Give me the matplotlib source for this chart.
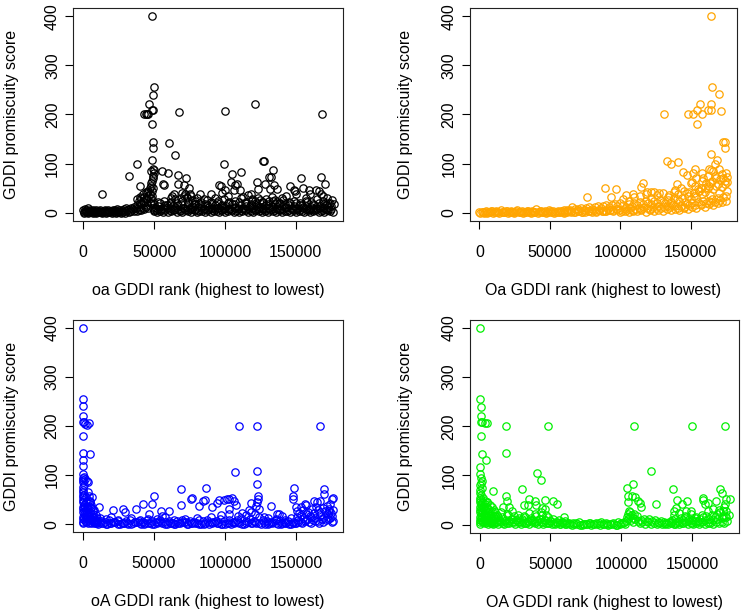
import matplotlib.pyplot as plt

plt.rcParams['font.family'] = ['Liberation Sans', 'DejaVu Sans']

# ---- oa (black) ----
oa_band_rank = [0.5, 1.5, 2.5, 3.5, 4.5, 5.5, 6.5, 7.5, 8.5, 9.5, 10.5, 11.5, 12.5, 13.5, 14.5,
                15.5, 16.5, 17.5, 18.5, 19.5, 20.5, 21.5, 22.5, 23.5, 24.5, 25.5, 26.5, 27.5, 28.5, 29.5,
                0, 1, 2, 3, 5, 7, 9, 12, 15, 18, 21, 24, 27, 30,
                31, 32, 33, 34, 35, 36, 37, 38, 39, 40, 41, 42, 43, 44, 45, 46, 47,
                32, 34, 36, 38, 39, 40, 41, 42, 43, 44, 45, 46, 47,
                38, 39, 40, 41, 42, 43, 44, 45, 46, 47,
                47.5, 48, 48.5, 49, 49.5, 50, 48, 49, 50, 48.5, 49.5, 47.5, 48, 49, 50, 48.5, 49.5,
                50, 52, 54, 56, 58, 60, 62, 64, 66, 68, 70, 72, 74, 76, 78, 80, 82, 84, 86, 88, 90, 92,
                94, 96, 98, 100, 102, 104, 106, 108, 110, 112, 114, 116, 118, 120, 122, 124, 126, 128,
                130, 132, 134, 136, 138, 140, 142, 144, 146, 148, 150, 152, 154, 156, 158, 160, 162,
                164, 166, 168, 170, 172, 174, 176,
                51, 53, 55, 57, 59, 61, 63, 65, 67, 69, 71, 73, 75, 77, 79, 81, 83, 85, 87, 89, 91, 93,
                95, 97, 99, 101, 103, 105, 107, 109, 111, 113, 115, 117, 119, 121, 123, 125, 127, 129,
                131, 133, 135, 137, 139, 141, 143, 145, 147, 149, 151, 153, 155, 157, 159, 161, 163,
                165, 167, 169, 171, 173, 175,
                53, 57, 61, 65, 69, 71, 73, 75, 77, 79, 83, 87, 91, 95, 99, 103, 107, 111, 115, 119,
                121, 123, 125, 127, 129, 131, 133, 135, 137, 139, 141, 145, 149, 153, 157, 161, 165,
                169, 173,
                70, 72, 73, 76, 80, 85, 62, 93, 98, 102, 113, 119, 140, 143, 157, 172]
oa_band_score = [2, 4, 1, 3, 6, 2, 3, 1, 4, 2, 3, 5, 1, 2, 4,
                 3, 1, 5, 2, 3, 4, 2, 6, 3, 1, 5, 4, 2, 7, 3,
                 6, 8, 5, 9, 4, 6, 5, 3, 6, 4, 5, 7, 6, 9,
                 5, 8, 4, 10, 7, 12, 9, 15, 12, 20, 18, 25, 22, 30, 28, 35, 38,
                 2, 3, 4, 3, 6, 8, 5, 10, 8, 12, 15, 10, 20,
                 28, 25, 32, 30, 38, 33, 42, 40, 45, 50,
                 55, 60, 65, 70, 75, 80, 85, 90, 88, 45, 50, 30, 20, 10, 5, 35, 25,
                 3, 1, 4, 2, 5, 1, 3, 6, 2, 4, 1, 5, 3, 2, 6, 1, 4, 3, 2, 5, 1, 3,
                 4, 2, 6, 1, 3, 5, 2, 4, 1, 3, 6, 2, 4, 1, 5, 3, 2, 4,
                 1, 6, 3, 2, 5, 1, 4, 3, 2, 6, 1, 3, 4, 2, 5, 1, 3,
                 6, 2, 4, 1, 5, 3, 2,
                 10, 14, 8, 12, 16, 9, 13, 11, 15, 18, 10, 12, 9, 14, 17, 11, 13, 8, 15, 12, 10, 16,
                 9, 14, 11, 13, 8, 17, 12, 10, 15, 9, 13, 11, 16, 8, 14, 12, 10, 15,
                 9, 13, 17, 11, 8, 14, 12, 16, 10, 13, 9, 15, 11, 14, 8, 12, 16,
                 10, 13, 9, 15, 11, 14,
                 22, 25, 20, 28, 30, 35, 32, 38, 27, 24, 22, 26, 20, 24, 28, 22, 25, 30, 23, 27,
                 24, 30, 26, 22, 28, 25, 32, 27, 23, 20, 26, 22, 25, 20, 24, 22, 28, 25, 20,
                 40, 38, 30, 35, 30, 28, 30, 30, 40, 35, 32, 28, 30, 35, 30, 30]
oa_fill_rank = [0.8, 2, 3, 4.2, 5.3, 6.8, 8, 9.2, 10.8, 12, 13.2, 14.8, 16, 17.2, 18.8, 20, 21.2,
                22.8, 24, 25.2, 26.8, 28, 29.2,
                51, 53, 55, 57, 59, 61, 63, 65, 67, 69, 71, 73, 75, 77, 79, 81, 83, 85, 87, 89, 91, 93,
                95, 97, 99, 101, 103, 105, 107, 109, 111, 113, 115, 117, 119, 121, 123, 125, 127, 129,
                131, 133, 135, 137, 139, 141, 143, 145, 147, 149, 151, 153, 155, 157, 159, 161, 163,
                165, 167, 169, 171, 173, 175,
                50, 54, 58, 62, 66, 70, 74, 78, 82, 86, 90, 94, 98, 102, 106, 110, 114, 118, 122, 126,
                130, 134, 138, 142, 146, 150, 154, 158, 162, 166, 170, 174]
oa_fill_score = [0, 1, 0, 2, 1, 0, 1, 0, 2, 1, 0, 1, 0, 2, 1, 0, 1,
                 0, 2, 1, 0, 1, 0,
                 6, 8, 5, 7, 9, 6, 5, 8, 7, 6, 9, 5, 7, 8, 6, 5, 9, 7, 6, 8, 5, 7,
                 9, 6, 8, 5, 7, 6, 9, 8, 5, 7, 6, 8, 9, 5, 7, 6, 8, 5,
                 9, 7, 6, 8, 5, 7, 9, 6, 8, 5, 7, 6, 9, 8, 5, 7, 6,
                 8, 9, 5, 7, 6, 8,
                 18, 20, 16, 22, 19, 24, 21, 18, 20, 17, 22, 19, 16, 21, 18, 23, 20, 17, 19, 22,
                 18, 24, 20, 17, 21, 19, 16, 22, 18, 20, 17, 19]
oa_rank = [48.8, 50.0, 49.5, 46.7, 44.1, 42.9, 44.8, 46.0, 48.3, 49.5,
           48.8, 49.5, 49.5, 48.8, 67.2, 60.6, 64.8, 38.0, 32.5, 13.4,
           40.1, 55.2, 60.1, 55.9, 57.3, 66.7, 66.7, 72.6, 71.4, 74.7,
           62.7, 64.1, 100.2, 99.5, 104.9, 111.3, 104.2, 107.3, 108.5, 106.1,
           110.4, 95.5, 97.1, 100.2, 90.1, 82.5, 121.4, 122.6, 123.1, 126.9,
           127.4, 128.5, 130.9, 132.7, 133.9, 134.4, 136.8, 132.0, 116.0, 118.4,
           145.7, 148.6, 149.3, 150.4, 153.3, 154.9, 159.2, 163.9, 166.2, 167.4,
           167.4, 168.6, 170.2, 169.3, 175.7, 176.8, 160.3]
oa_score = [400, 255, 240, 221, 200, 200, 200, 200, 209, 209,
            180, 144, 131, 108, 206, 142, 118, 100, 75, 39,
            54, 85, 80, 58, 56, 76, 58, 70, 56, 50,
            35, 39, 207, 100, 78, 83, 63, 56, 59, 46,
            46, 56, 54, 46, 39, 39, 221, 63, 49, 105,
            105, 59, 73, 73, 88, 56, 49, 49, 37, 39,
            54, 47, 44, 39, 71, 50, 46, 47, 44, 39,
            73, 200, 59, 35, 27, 17, 39]

# ---- Oa (orange) ----
Oa_band_rank = [0, 1.5, 3, 4.5, 6, 7.5, 9, 10.5, 12, 13.5, 15, 16.5, 18, 19.5, 21, 22.5, 24, 25.5,
                27, 28.5, 30, 31.5, 33, 34.5, 36, 37.5, 39, 40.5, 42, 43.5, 45, 46.5, 48, 49.5, 51,
                52.5, 54, 55.5, 57, 58.5, 60,
                61, 63, 65, 67, 69, 71, 73, 75, 77, 79, 81, 83, 85, 87, 89, 91, 93, 95, 97, 99,
                62, 64, 66, 68, 70, 72, 74, 76, 78, 80, 82, 84, 86, 88, 90, 92, 94, 96, 98, 100,
                101, 103, 105, 107, 109, 111, 113, 115, 117, 119, 121, 123, 125, 127, 129, 131, 133,
                135, 137, 139,
                102, 104, 106, 108, 110, 112, 114, 116, 118, 120, 122, 124, 126, 128, 130, 132, 134,
                136, 138, 140,
                102, 106, 110, 114, 118, 122, 126, 130, 134, 138,
                141, 143, 145, 147, 149, 151, 153, 155, 157, 159, 161, 163, 165, 167, 169, 171, 173, 175,
                142, 144, 146, 148, 150, 152, 154, 156, 158, 160, 162, 164, 166, 168, 170, 172, 174, 176,
                141, 145, 149, 153, 157, 161, 165, 169, 173, 176,
                143, 147, 151, 155, 159, 163, 167, 171, 175]
Oa_band_score = [1, 2, 0, 3, 1, 2, 4, 1, 3, 2, 6, 1, 2, 3, 1, 4, 2, 1,
                 6, 2, 3, 1, 2, 4, 1, 3, 2, 7, 1, 3, 2, 4, 1, 6, 2,
                 3, 1, 4, 2, 3, 5,
                 2, 4, 3, 1, 5, 3, 2, 6, 4, 3, 5, 2, 6, 4, 3, 7, 5, 4, 8, 6,
                 6, 5, 12, 8, 7, 10, 6, 9, 12, 8, 11, 14, 9, 13, 16, 12, 15, 18, 13, 20,
                 4, 7, 5, 9, 6, 8, 10, 7, 11, 9, 8, 12, 10, 13, 9, 11, 14,
                 12, 15, 13,
                 15, 12, 18, 14, 20, 16, 22, 18, 25, 20, 17, 24, 21, 27, 23, 19, 26,
                 22, 30, 28,
                 28, 25, 32, 35, 38, 30, 36, 40, 33, 42,
                 10, 14, 12, 18, 15, 20, 16, 22, 18, 25, 20, 24, 28, 22, 30, 26, 32, 35,
                 25, 30, 22, 35, 28, 40, 32, 45, 38, 42, 50, 36, 48, 55, 40, 52, 58, 45,
                 38, 45, 42, 55, 50, 60, 65, 58, 70, 62,
                 50, 40, 62, 48, 70, 55, 75, 68, 80]
Oa_fill_rank = [0.75, 2.25, 3.75, 5.25, 6.75, 8.25, 9.75, 11.25, 12.75, 14.25, 15.75, 17.25, 18.75,
                20.25, 21.75, 23.25, 24.75, 26.25, 27.75, 29.25, 30.75, 32.25, 33.75, 35.25, 36.75,
                38.25, 39.75, 41.25, 42.75, 44.25, 45.75, 47.25, 48.75, 50.25, 51.75, 53.25, 54.75,
                56.25, 57.75, 59.25,
                60, 62.5, 65, 67.5, 70, 72.5, 75, 77.5, 80, 82.5, 85, 87.5, 90, 92.5, 95, 97.5,
                100, 103, 106, 109, 112, 115, 118, 121, 124, 127, 130, 133, 136, 139, 142, 145, 148,
                151, 154, 157, 160, 163, 166, 169, 172, 175,
                150, 152, 154, 156, 158, 160, 162, 164, 166, 168, 170, 172, 174, 176]
Oa_fill_score = [0, 1, 2, 0, 1, 3, 0, 2, 1, 0, 2, 1, 3,
                 0, 1, 2, 0, 3, 1, 2, 0, 1, 3, 2, 0,
                 1, 2, 0, 3, 1, 2, 0, 1, 3, 2, 0, 1,
                 2, 3, 1,
                 0, 1, 2, 1, 3, 2, 1, 4, 2, 3, 5, 3, 4, 6, 5, 7,
                 2, 3, 1, 4, 3, 5, 2, 6, 4, 5, 3, 7, 5, 8, 6, 10, 8,
                 12, 10, 15, 12, 18, 15, 20, 22, 25,
                 60, 35, 70, 45, 65, 50, 75, 60, 85, 70, 90, 78, 65, 72]
Oa_rank = [164.2, 165.1, 169.8, 164.2, 162.4, 164.7, 156.5, 154.2, 157.7, 151.9,
           147.9, 154.2, 171.7, 131.0, 172.8, 174.0, 174.0, 164.2, 168.9, 167.5,
           132.8, 140.7, 136.1, 144.4, 147.2, 153.1, 151.9, 157.7, 162.8, 164.7,
           115.8, 114.7, 89.1, 96.8, 76.3, 93.7, 104.2, 108.9, 119.3, 121.7,
           124.0, 127.5, 134.9, 139.1, 140.2, 164.7]
Oa_score = [400, 255, 241, 221, 209, 209, 221, 209, 200, 200,
            200, 180, 207, 200, 144, 144, 131, 119, 108, 100,
            105, 104, 100, 83, 76, 90, 80, 80, 90, 87,
            61, 52, 50, 49, 33, 33, 37, 39, 42, 42,
            42, 40, 37, 47, 59, 22]

# ---- oA (blue) ----
oA_band_rank = [0, 0, 0, 0, 0, 0, 0, 0, 0.5, 0.5, 0.5, 0.5, 1, 1, 1, 1, 1.5, 1.5, 2, 2, 2, 2.5, 2.5,
                3, 3, 3, 3.5, 4, 4, 4, 4.5, 5, 5, 5.5, 6, 6, 6.5, 7, 7, 7.5, 8, 8, 8.5, 9, 9, 9.5, 10, 10,
                11, 14, 17, 20, 23, 26, 29, 32, 35, 38, 41, 44, 47, 50, 53, 56, 59, 62, 65, 68, 71, 74,
                77, 80, 83, 86, 89, 92, 95, 98, 101, 104, 107, 110, 113, 116, 119, 122, 125, 128, 131,
                134, 137, 140, 143, 146, 149,
                12.5, 15.5, 18.5, 21.5, 24.5, 27.5, 30.5, 33.5, 36.5, 39.5, 42.5, 45.5, 48.5, 51.5,
                54.5, 57.5, 60.5, 63.5, 66.5, 69.5, 72.5, 75.5, 78.5, 81.5, 84.5, 87.5, 90.5, 93.5,
                96.5, 99.5, 102.5, 105.5, 108.5, 111.5, 114.5, 117.5, 120.5, 123.5, 126.5, 129.5,
                132.5, 135.5, 138.5, 141.5, 144.5, 147.5,
                12, 16, 20, 25, 34, 40, 46, 52, 58, 64, 72, 80, 90, 97, 103, 109, 112, 115, 118, 121,
                124, 127, 130, 136, 142, 146,
                150, 151.5, 153, 154.5, 156, 157.5, 159, 160.5, 162, 163.5, 165, 166.5, 168, 169.5,
                171, 172.5, 174, 175.5,
                150.5, 152, 153.5, 155, 156.5, 158, 159.5, 161, 162.5, 164, 165.5, 167, 168.5, 170,
                171.5, 173, 174.5, 176]
oA_band_score = [5, 15, 25, 35, 45, 55, 65, 75, 10, 30, 50, 70, 20, 40, 60, 80, 8, 35, 15, 45, 28, 5, 55,
                 12, 38, 22, 65, 8, 30, 48, 18, 5, 25, 40, 10, 32, 55, 6, 20, 14, 3, 28, 9, 5, 18, 7, 3, 12,
                 1, 3, 0, 2, 4, 1, 3, 0, 2, 5, 1, 3, 2, 0, 4, 2, 1, 3, 0, 2, 4, 1,
                 3, 2, 0, 3, 1, 4, 2, 1, 3, 0, 5, 2, 1, 4, 2, 3, 1, 0, 2,
                 4, 1, 3, 2, 0, 3,
                 6, 4, 8, 5, 7, 3, 6, 9, 4, 7, 5, 8, 6, 4,
                 9, 5, 7, 3, 6, 8, 4, 7, 5, 9, 6, 8, 4, 7,
                 10, 6, 8, 5, 9, 12, 7, 10, 6, 14, 9, 7,
                 5, 8, 6, 4, 7, 5,
                 12, 10, 15, 8, 12, 9, 11, 10, 14, 8, 10, 12, 15, 18, 20, 16, 22, 18, 25, 20,
                 30, 15, 12, 10, 8, 12,
                 3, 8, 5, 12, 6, 10, 4, 15, 8, 12, 6, 18, 10, 14,
                 8, 20, 12, 6,
                 15, 22, 18, 28, 20, 25, 16, 30, 22, 35, 28, 24, 32, 26,
                 38, 30, 22, 28]
oA_fill_rank = [13, 16, 19, 22, 25, 28, 31, 34, 37, 40, 43, 46, 49, 52, 55, 58, 61, 64, 67, 70, 73,
                76, 79, 82, 85, 88, 91, 94, 97, 100, 103, 106, 109, 112, 115, 118, 121, 124, 127, 130,
                133, 136, 139, 142, 145, 148,
                0.2, 0.7, 1.2, 1.7, 2.2, 2.7, 3.2, 3.7, 4.2, 4.7, 5.2, 5.7, 6.2, 6.7, 7.2, 7.7, 8.2,
                8.7, 9.2, 9.7, 0, 0, 0, 0,
                151, 154, 157, 160, 163, 166, 169, 172, 175]
oA_fill_score = [3, 1, 2, 4, 0, 2, 3, 1, 4, 2, 0, 3, 1, 2, 4, 1, 3, 0, 2, 4, 1,
                 3, 2, 0, 1, 4, 2, 3, 1, 0, 3, 2, 4, 1, 2, 3, 5, 2, 4, 1,
                 3, 2, 0, 3, 1, 2,
                 2, 40, 12, 25, 5, 33, 18, 3, 22, 10, 45, 2, 15, 8, 28, 4, 12,
                 6, 2, 9, 85, 90, 95, 60,
                 5, 2, 8, 3, 6, 2, 5, 10, 4]
oA_rank = [0, 0, 0, 0, 0, 1.2, 1.9, 2.8, 4.7, 0,
           0.5, 5.1, 0, 0, 0, 1.2, 1.9, 2.8, 3.5, 4.7,
           5.1, 5.8, 11.2, 21, 28, 30, 37.4, 42.5, 49, 50.2,
           46.3, 54.9, 60.7, 56, 68.9, 68.9, 75.9, 76.6, 81.8, 84.6,
           86, 86.9, 91.1, 94.6, 95.8, 99.3, 101.6, 102.8, 105.1, 106.3,
           107.5, 102.8, 107, 109.8, 116.8, 118.4, 122.6, 122.6, 122.6, 123.3,
           123.3, 122.6, 121.8, 132, 136.7, 137.8, 140.2, 148.3, 147.8, 147.8,
           149.5, 150.7, 153, 156, 157, 162.3, 164.7, 167, 167, 169.4,
           169.4, 175.2, 175.8, 174, 172.9, 175.2]
oA_score = [400, 256, 240, 221, 209, 209, 204, 203, 206, 180,
            144, 143, 131, 118, 102, 97, 92, 88, 85, 58,
            48, 35, 35, 29, 31, 24, 31, 41, 41, 58,
            20, 26, 27, 17, 71, 39, 51, 54, 37, 48,
            50, 73, 35, 44, 49, 49, 51, 51, 53, 48,
            39, 31, 107, 200, 29, 44, 200, 109, 82, 58,
            52, 45, 38, 37, 20, 20, 17, 73, 58, 51,
            34, 27, 34, 41, 39, 48, 46, 48, 200, 71,
            61, 52, 54, 41, 27, 16]

# ---- OA (green) ----
OA_band_rank = [0, 0, 0, 0, 0, 0, 0, 0, 0.5, 0.5, 0.5, 0.5, 1, 1, 1, 1, 1.5, 1.5, 1.5, 2, 2, 2,
                2.5, 2.5, 3, 3, 3, 3.5, 4, 4, 4, 4.5, 5, 5, 5.5, 6, 6, 6.5, 7, 7, 7.5, 8, 8, 8.5,
                9, 9, 9.5, 10, 10, 11, 11, 12, 12, 13,
                13, 15, 17, 19, 21, 23, 25, 27, 29, 31, 33, 35, 37, 39, 41, 43, 45, 47, 49, 51,
                53, 55, 57, 59,
                14, 16, 18, 20, 22, 24, 26, 28, 30, 32, 34, 36, 38, 40, 42, 44, 46, 48, 50, 52,
                54, 56, 58, 60,
                15, 19, 23, 27, 31, 35, 39, 43, 47,
                61, 63, 65, 67, 69, 71, 73, 75, 77, 79, 81, 83, 85, 87, 89, 91, 93, 95, 97, 99,
                101, 103,
                62, 66, 70, 74, 78, 82, 86, 90, 94, 98, 102,
                103.5, 104, 104.5, 105, 105.5, 106, 106.5, 107, 107.5, 108, 108.5, 109, 110, 111, 112,
                113, 115, 117, 119, 121, 123, 125, 127, 129, 131,
                114, 116, 118, 120, 122, 124, 126, 128, 130, 132,
                133, 135, 137, 139, 141, 143, 145, 147, 149, 151, 153, 155, 157, 159, 161, 163,
                165, 167, 169, 171, 173, 175,
                134, 136, 138, 140, 142, 144, 146, 148, 150, 152, 154, 156, 158, 160, 162, 164,
                166, 168, 170, 172, 174, 176,
                137, 141, 145, 149, 153, 157, 161, 165, 169, 173]
OA_band_score = [5, 15, 25, 35, 45, 55, 65, 80, 10, 30, 50, 70, 20, 40, 60, 85, 8, 35, 75, 15, 45, 28,
                 5, 55, 12, 38, 22, 48, 8, 30, 42, 18, 5, 35, 45, 10, 32, 25, 6, 20, 40, 14, 3, 28,
                 35, 5, 18, 30, 3, 12, 25, 8, 20, 15,
                 2, 5, 1, 4, 3, 6, 2, 5, 1, 3, 4, 2, 6, 3, 1, 5, 2, 4, 3, 1,
                 2, 4, 1, 3,
                 10, 15, 8, 20, 12, 18, 9, 14, 11, 16, 8, 13, 10, 17, 12, 20, 9, 15, 7, 12,
                 6, 10, 5, 8,
                 25, 22, 28, 20, 18, 24, 22, 26, 20,
                 1, 3, 0, 2, 1, 0, 2, 1, 3, 0, 1, 2, 0, 1, 3, 0, 2, 1, 0, 2,
                 3, 1,
                 4, 3, 5, 2, 4, 3, 5, 2, 4, 6, 5,
                 8, 15, 22, 12, 28, 18, 25, 10, 20, 14, 6, 22, 12, 18, 8,
                 3, 6, 2, 5, 1, 4, 2, 3, 1, 2,
                 10, 12, 8, 11, 7, 9, 6, 8, 5, 4,
                 1, 3, 2, 4, 1, 3, 5, 2, 4, 1, 3, 2, 5, 1, 3, 4,
                 2, 5, 3, 6, 4, 8,
                 6, 9, 12, 8, 14, 10, 16, 12, 9, 14, 8, 12, 15, 18, 12, 20,
                 15, 22, 25, 18, 28, 20,
                 20, 24, 18, 22, 16, 20, 28, 32, 30, 35]
OA_fill_rank = [0.2, 0.7, 1.2, 1.7, 2.2, 2.7, 3.2, 3.7, 4.2, 4.7, 5.2, 5.7, 6.2, 6.7, 7.2, 7.7,
                8.2, 8.7, 9.2, 9.7, 10.5, 11.5,
                12.5, 14.5, 16.5, 18.5, 20.5, 22.5, 24.5, 26.5, 28.5, 30.5, 32.5, 34.5, 36.5, 38.5,
                40.5, 42.5, 44.5, 46.5, 48.5, 50.5, 52.5, 54.5, 56.5, 58.5,
                60, 64, 68, 72, 76, 80, 84, 88, 92, 96, 100,
                132, 135, 138, 141, 144, 147, 150, 153, 156, 159, 162, 165, 168, 171, 174]
OA_fill_score = [2, 42, 12, 25, 5, 33, 18, 3, 22, 10, 45, 2, 15, 8, 28, 4,
                 12, 6, 2, 9, 18, 5,
                 6, 8, 4, 10, 7, 12, 5, 9, 6, 8, 4, 7, 10, 5,
                 8, 11, 6, 9, 4, 7, 3, 6, 2, 5,
                 2, 1, 3, 0, 2, 1, 3, 1, 2, 0, 3,
                 3, 5, 2, 6, 4, 7, 3, 8, 5, 9, 6, 10, 12, 14, 16]
OA_rank = [0, 0, 0.7, 0.7, 0.7, 2, 4, 5, 0.7, 1.4,
           4.2, 0, 0, 0.7, 1.4, 18.8, 18.3, 9.6, 18.3, 19.5,
           16.7, 20.5, 30, 31.2, 34.7, 39.4, 40.6, 43, 39.9, 34,
           44.1, 46.5, 46.5, 48.4, 51.6, 54.7, 59.4, 104, 104.7, 105.1,
           107.5, 108.7, 109.1, 109.8, 111.7, 113.4, 114.1, 121.1, 124.4, 136.8,
           137.5, 138.5, 139.2, 142.7, 145.8, 146.2, 149.3, 149.7, 158, 158,
           159.1, 161.5, 167.3, 169.7, 170.9, 172, 173.2, 173.7, 174.4, 176.7,
           173.2]
OA_score = [400, 256, 240, 221, 209, 209, 206, 206, 180, 144,
            131, 118, 102, 95, 88, 201, 145, 69, 58, 49,
            35, 35, 73, 39, 53, 49, 105, 90, 39, 39,
            34, 31, 51, 201, 49, 41, 15, 75, 46, 58,
            58, 82, 201, 56, 48, 44, 35, 109, 42, 73,
            27, 34, 50, 41, 27, 49, 27, 200, 54, 51,
            41, 44, 48, 73, 65, 27, 17, 200, 52, 52,
            41]

x_ticks = [0, 50000, 100000, 150000]
y_ticks = [0, 100, 200, 300, 400]
y_title = 'GDDI promiscuity score'

# rank lists, score lists, colour, x title, axes box in pixels (left, top, right, bottom)
panels = [
    (oa_band_rank + oa_fill_rank + oa_rank, oa_band_score + oa_fill_score + oa_score, 'black',
     'oa GDDI rank (highest to lowest)', (73.3, 8.3, 342.7, 220.7)),
    (Oa_band_rank + Oa_fill_rank + Oa_rank, Oa_band_score + Oa_fill_score + Oa_score, '#FFA500',
     'Oa GDDI rank (highest to lowest)', (469.5, 8.3, 737.3, 220.7)),
    (oA_band_rank + oA_fill_rank + oA_rank, oA_band_score + oA_fill_score + oA_score, '#0000FF',
     'oA GDDI rank (highest to lowest)', (72.7, 320.0, 343.3, 532.0)),
    (OA_band_rank + OA_fill_rank + OA_rank, OA_band_score + OA_fill_score + OA_score, '#00F000',
     'OA GDDI rank (highest to lowest)', (469.7, 320.0, 738.7, 532.5)),
]

W, H = 744, 614
fig = plt.figure(figsize=(W / 100, H / 100), dpi=100)

for rank, score, col, xtitle, (l, t, r, b) in panels:
    ax = fig.add_axes([l / W, (H - b) / H, (r - l) / W, (b - t) / H])
    ax.plot([v * 1000 for v in rank], score, linestyle='none', marker='o',
            mfc='none', mec=col, ms=5.3, mew=0.9)
    ax.set_xlim(-7040, 183040)
    ax.set_ylim(-16, 416)
    ax.set_xticks(x_ticks)
    ax.set_xticklabels([str(v) for v in x_ticks])
    ax.set_yticks(y_ticks)
    ax.set_yticklabels([str(v) for v in y_ticks], rotation=90, va='center')
    ax.tick_params(axis='both', direction='out', length=5.5, width=0.8,
                   labelsize=11.5, colors='black')
    ax.tick_params(axis='x', pad=12)
    ax.tick_params(axis='y', pad=4)
    for s in ax.spines.values():
        s.set_linewidth(0.8)
        s.set_color('#222222')
    bw = r - l
    bh = b - t
    ax.set_xlabel(xtitle, fontsize=11.5)
    ax.xaxis.set_label_coords(0.5, -69.5 / bh)
    ax.xaxis.label.set_va('center')
    ax.set_ylabel(y_title, fontsize=11.5)
    ax.yaxis.set_label_coords(-(l - (12 if l < 300 else 405.3)) / bw, 0.5)
    ax.yaxis.label.set_va('center')

fig.savefig('out.png', dpi=100)
